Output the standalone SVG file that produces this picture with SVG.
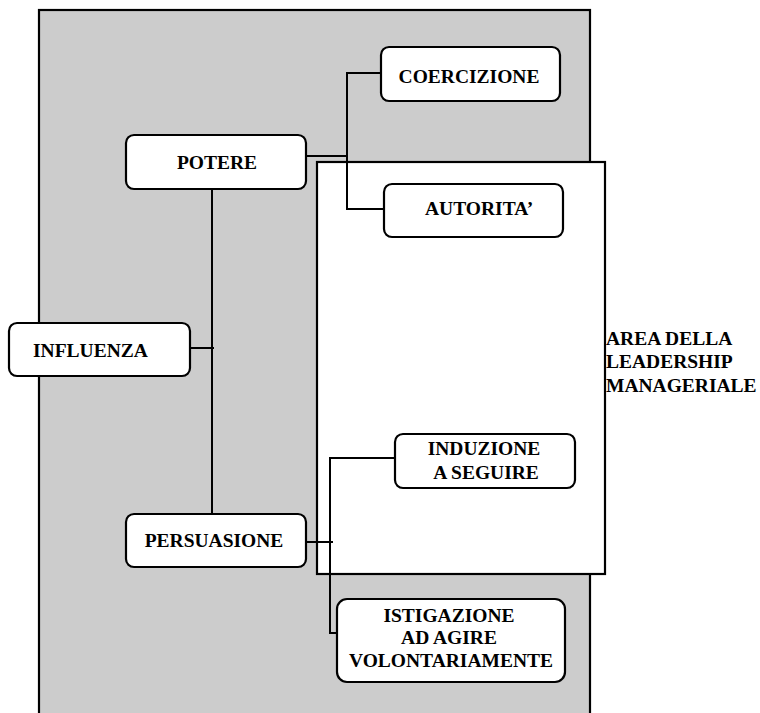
<svg xmlns="http://www.w3.org/2000/svg" width="760" height="713" viewBox="0 0 760 713">
<style>
.t{font-family:"Liberation Serif","Times New Roman",serif;font-weight:bold;font-size:19.5px;fill:#000}
.c{text-anchor:middle}
.box{fill:#fff;stroke:#000;stroke-width:2.2}
.ln{fill:none;stroke:#000;stroke-width:2}
</style>
<rect width="760" height="713" fill="#fff"/>
<g id="area-outer">
<rect x="39" y="10" width="551" height="720" fill="#cccccc" stroke="#000" stroke-width="2.2"/>
</g>
<g id="area-leadership">
<rect x="317" y="162" width="288" height="412" fill="#fff" stroke="#000" stroke-width="2.2"/>
<text class="t" x="606" y="345">AREA DELLA</text>
<text class="t" x="606" y="368">LEADERSHIP</text>
<text class="t" x="606" y="392">MANAGERIALE</text>
</g>
<g id="connectors">
<polyline class="ln" points="306,156 348,156"/>
<polyline class="ln" points="381,73 347,73 347,209 384,209"/>
<polyline class="ln" points="212,189 212,514"/>
<polyline class="ln" points="190,348 214,348"/>
<polyline class="ln" points="306,542 333,542"/>
<polyline class="ln" points="395,458 330,458 330,633 337,633"/>
</g>
<g id="coercizione">
<rect class="box" x="381" y="47" width="179" height="54" rx="8"/>
<text class="t c" x="469" y="83">COERCIZIONE</text>
</g>
<g id="potere">
<rect class="box" x="126" y="135" width="180" height="54" rx="8"/>
<text class="t c" x="217" y="169">POTERE</text>
</g>
<g id="autorita">
<rect class="box" x="384" y="184" width="179" height="53" rx="8"/>
<text class="t" x="425" y="215">AUTORITA’</text>
</g>
<g id="influenza">
<rect class="box" x="9" y="323" width="181" height="53" rx="8"/>
<text class="t" x="33" y="357">INFLUENZA</text>
</g>
<g id="induzione">
<rect class="box" x="395" y="434" width="180" height="54" rx="8"/>
<text class="t c" x="484" y="455">INDUZIONE</text>
<text class="t c" x="486" y="479">A SEGUIRE</text>
</g>
<g id="persuasione">
<rect class="box" x="126" y="514" width="180" height="53" rx="8"/>
<text class="t c" x="214" y="547">PERSUASIONE</text>
</g>
<g id="istigazione">
<rect class="box" x="337" y="599" width="228" height="83" rx="10"/>
<text class="t c" x="449" y="622">ISTIGAZIONE</text>
<text class="t c" x="449" y="644">AD AGIRE</text>
<text class="t c" x="451" y="667">VOLONTARIAMENTE</text>
</g>
</svg>
